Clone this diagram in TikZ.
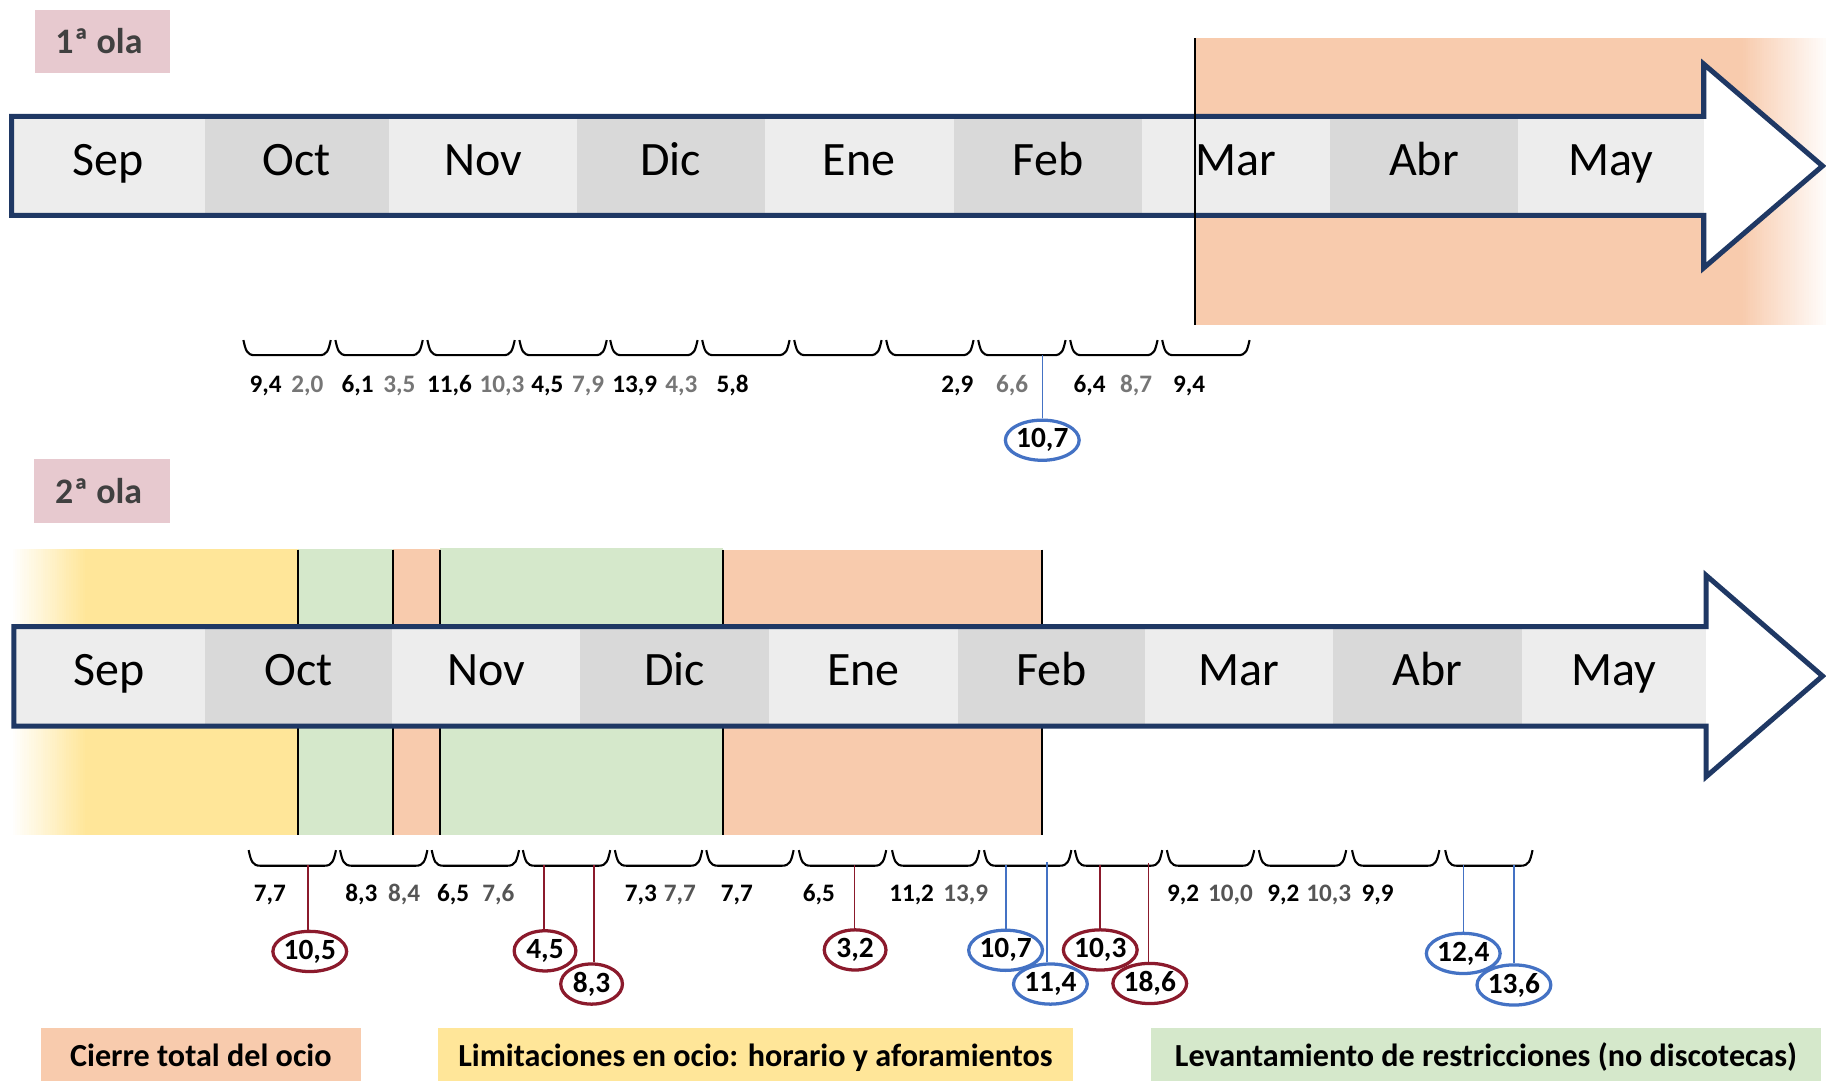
\documentclass[tikz,border=0pt]{standalone}
\usepackage{fontspec}
\setmainfont{Carlito}
\usetikzlibrary{shapes.geometric}
\definecolor{navy}{HTML}{1F3864}
\definecolor{orng}{HTML}{F8CBAD}
\definecolor{yell}{HTML}{FFE699}
\definecolor{grn}{HTML}{D5E8CB}
\definecolor{pinkc}{HTML}{E7C9CF}
\definecolor{cellA}{HTML}{EDEDED}
\definecolor{cellB}{HTML}{D9D9D9}
\definecolor{blu}{HTML}{4472C4}
\definecolor{redd}{HTML}{8B1A2C}
\definecolor{grayA}{HTML}{767676}
\definecolor{grayB}{HTML}{555555}
\definecolor{olatext}{HTML}{404040}
\begin{document}
\begin{tikzpicture}[x=0.5pt,y=-0.5pt,
  month/.style={font=\fontsize{20.6}{24}\selectfont, anchor=base, inner sep=0},
  val/.style={font=\bfseries\fontsize{10.8}{13}\selectfont, anchor=base, inner sep=0},
  valg/.style={val, text=grayA},
  valh/.style={val, text=grayB},
  ell/.style={ellipse, draw=#1, line width=1.4pt, minimum width=26.5pt, minimum height=17.25pt, inner sep=0, font=\bfseries\fontsize{12.6}{14}\selectfont},
  bracepath/.style={line width=0.9pt, black},
  bandline/.style={line width=0.9pt, black},
  conn/.style={line width=0.6pt, draw=#1},
  legendtext/.style={font=\bfseries\fontsize{13.8}{16}\selectfont, anchor=base, inner sep=0},
  olatext/.style={font=\bfseries\fontsize{15.4}{18}\selectfont, text=olatext, anchor=base, inner sep=0},
  arrowline/.style={draw=navy, line width=2.15pt, line join=miter}
]
\useasboundingbox (0,0) rectangle (1568,928.3);

% ===================== 1a ola =====================
\fill[pinkc] (30,9) rectangle (146,63);
\node[olatext] (ola1) at (85,45.8) {1ª ola};

% orange band with fade to the right
\fill[orng] (1026,33) rectangle (1496,279);
\foreach \i in {0,...,35}{
  \pgfmathsetmacro{\pc}{100-\i*92/35}
  \fill[orng!\pc!white] ({1495+\i*2},33) rectangle ({1497.6+\i*2},279);
}

% arrow 1
\fill[white] (10,100) -- (1463,100) -- (1463,55) -- (1565,142.5) -- (1463,230) -- (1463,185) -- (10,185) -- cycle;
\foreach \a/\b/\c/\m [count=\i] in {10/176/cellA/Sep,176/334/cellB/Oct,334/495.5/cellA/Nov,495.5/656.5/cellB/Dic,656.5/819/cellA/Ene,819/981/cellB/Feb,981/1142/cellA/Mar,1142/1303.5/cellB/Abr,1303.5/1463/cellA/May}{
  \fill[\c] (\a,100) rectangle (\b,185);
  \node[month] (ma\i) at ({(\a+\b)/2},150.3) {\m};
}
\draw[arrowline] (10,100) -- (1463,100) -- (1463,55) -- (1565,142.5) -- (1463,230) -- (1463,185) -- (10,185) -- cycle;
\draw[bandline] (1026,33) -- (1026,279);

% braces row 1
\foreach \x in {209,288,367,446,524,603,682,761,840,919,998}{
  \draw[bracepath] (\x,292) .. controls (\x+2,301) and (\x+3,305) .. (\x+10,305) -- (\x+65,305) .. controls (\x+72,305) and (\x+73,301) .. (\x+75,292);
}
% values row 1
\node[val]  (a1) at (228,337) {9,4};
\node[valg] (a2) at (264,337) {2,0};
\node[val]  (a3) at (307,337) {6,1};
\node[valg] (a4) at (343,337) {3,5};
\node[val]  (a5) at (386,337) {11,6};
\node[valg] (a6) at (431,337) {10,3};
\node[val]  (a7) at (470,337) {4,5};
\node[valg] (a8) at (505,337) {7,9};
\node[val]  (a9) at (545,337) {13,9};
\node[valg] (a10) at (585,337) {4,3};
\node[val]  (a11) at (629,337) {5,8};
\node[val]  (a12) at (822,337) {2,9};
\node[valg] (a13) at (869,337) {6,6};
\node[val]  (a14) at (935.6,337) {6,4};
\node[valg] (a15) at (975.6,337) {8,7};
\node[val]  (a16) at (1021,337) {9,4};

\coordinate (t9) at (895.4,305);
\node[ell=blu] (c1) at (895,378) {10,7};
\draw[conn=blu] (t9) -- (t9 |- c1.north);

% ===================== 2a ola =====================
\fill[pinkc] (29,394) rectangle (146,449.5);
\node[olatext] (ola2) at (84.7,432.2) {2ª ola};

% bands
\fill[yell] (74,471) rectangle (256,717);
\foreach \i in {0,...,31}{
  \pgfmathsetmacro{\pc}{3+\i*97/31}
  \fill[yell!\pc!white] ({11+\i*2},471) rectangle ({13.6+\i*2},717);
}
\fill[grn] (256,471) rectangle (337.5,717);
\fill[orng] (337.5,471) rectangle (378,717);
\fill[grn] (378,470.5) rectangle (621,717);
\fill[orng] (621,472) rectangle (895,717);
\foreach \x in {256,337.5,378,621,895}{
  \draw[bandline] (\x,472) -- (\x,717);
}

% arrow 2
\fill[white] (12,538) -- (1465,538) -- (1465,494) -- (1565,580.5) -- (1465,667) -- (1465,623.5) -- (12,623.5) -- cycle;
\foreach \a/\b/\c/\m [count=\i] in {12/176/cellA/Sep,176/337/cellB/Oct,337/498/cellA/Nov,498/660.5/cellB/Dic,660.5/822.5/cellA/Ene,822.5/983/cellB/Feb,983/1145/cellA/Mar,1145/1307/cellB/Abr,1307/1465/cellA/May}{
  \fill[\c] (\a,538) rectangle (\b,623.5);
  \node[month] (mb\i) at ({(\a+\b)/2},588.3) {\m};
}
\draw[arrowline] (12,538) -- (1465,538) -- (1465,494) -- (1565,580.5) -- (1465,667) -- (1465,623.5) -- (12,623.5) -- cycle;

% braces row 2
\foreach \x in {213.5,292,370.7,449,528,606.5,686,766,845,923,1002,1081,1161,1241}{
  \draw[bracepath] (\x,730) .. controls (\x+2,739) and (\x+3,743.4) .. (\x+10,743.4) -- (\x+65,743.4) .. controls (\x+72,743.4) and (\x+73,739) .. (\x+75,730);
}
% values row 2
\node[val]  (b1) at (231.8,774.3) {7,7};
\node[val]  (b2) at (310.3,774.3) {8,3};
\node[valh] (b3) at (347,774.3) {8,4};
\node[val]  (b4) at (389,774.3) {6,5};
\node[valh] (b5) at (428,774.3) {7,6};
\node[val]  (b6) at (550.3,774.3) {7,3};
\node[valh] (b7) at (583.7,774.3) {7,7};
\node[val]  (b8) at (632.7,774.3) {7,7};
\node[val]  (b9) at (703.2,774.3) {6,5};
\node[val]  (b10) at (782.8,774.3) {11,2};
\node[valh] (b11) at (829.2,774.3) {13,9};
\node[val]  (b12) at (1016,774.3) {9,2};
\node[valh] (b13) at (1056.7,774.3) {10,0};
\node[val]  (b14) at (1102,774.3) {9,2};
\node[valh] (b15) at (1141,774.3) {10,3};
\node[val]  (b16) at (1183,774.3) {9,9};

% connectors row 2
\coordinate (s1) at (264.5,743);
\coordinate (s2) at (467,743);
\coordinate (s3) at (510,743);
\coordinate (s4) at (733.5,743);
\coordinate (s5) at (864,743);
\coordinate (s6) at (899,740);
\coordinate (s7) at (944.6,743);
\coordinate (s8) at (986.4,741);
\coordinate (s9) at (1256.7,743);
\coordinate (s10) at (1300,743);

\node[ell=redd] (e1) at (266,817) {10,5};
\node[ell=redd] (e2) at (468,816.5) {4,5};
\node[ell=redd] (e3) at (508,845) {8,3};
\node[ell=redd] (e4) at (734.3,815.7) {3,2};
\node[ell=blu]  (e5) at (863.5,816) {10,7};
\node[ell=blu]  (e6) at (902,845) {11,4};
\node[ell=redd] (e7) at (944.8,815.7) {10,3};
\node[ell=redd] (e8) at (987.3,844.5) {18,6};
\node[ell=blu]  (e9) at (1256.5,818.7) {12,4};
\node[ell=blu]  (e10) at (1300,845.8) {13,6};

\draw[conn=redd] (s1) -- (s1 |- e1.north);
\draw[conn=redd] (s2) -- (s2 |- e2.north);
\draw[conn=redd] (s3) -- (s3 |- e3.north);
\draw[conn=redd] (s4) -- (s4 |- e4.north);
\draw[conn=blu]  (s5) -- (s5 |- e5.north);
\draw[conn=blu]  (s6) -- (s6 |- e6.north);
\draw[conn=redd] (s7) -- (s7 |- e7.north);
\draw[conn=redd] (s8) -- (s8 |- e8.north);
\draw[conn=blu]  (s9) -- (s9 |- e9.north);
\draw[conn=blu]  (s10) -- (s10 |- e10.north);

% ===================== legend =====================
\fill[orng] (35,883) rectangle (310,928.3);
\node[legendtext] (l1) at (172.5,916) {Cierre total del ocio};
\fill[yell] (376.5,883) rectangle (921,928.3);
\node[legendtext] (l2) at (648.7,916) {Limitaciones en ocio: horario y aforamientos};
\fill[grn] (988,883) rectangle (1564,928.3);
\node[legendtext] (l3) at (1276,916) {Levantamiento de restricciones (no discotecas)};
\end{tikzpicture}
\end{document}
